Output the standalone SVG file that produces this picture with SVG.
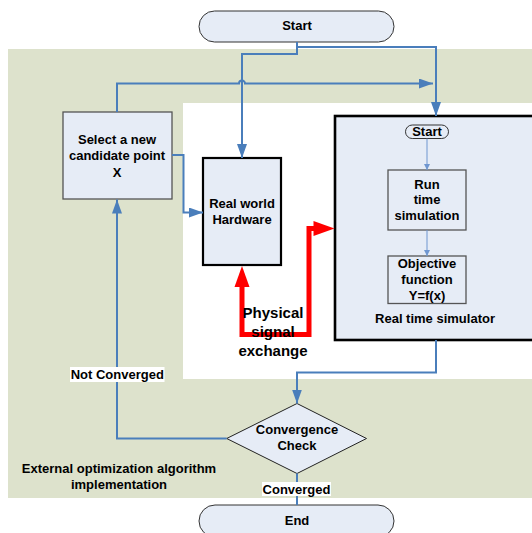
<svg xmlns="http://www.w3.org/2000/svg" width="532" height="533" viewBox="0 0 532 533">
<style>
text{font-family:"Liberation Sans",Arial,sans-serif;font-weight:bold;font-size:13px;fill:#000;text-anchor:middle}
.big{font-size:15px}
.term{fill:#e6ecf6;stroke:#333;stroke-width:1}
.box{fill:#e6ecf6;stroke:#555;stroke-width:1.3}
.hw{fill:#e6ecf6;stroke:#000;stroke-width:2.2}
.conn{fill:none;stroke:#4a7ebb;stroke-width:2}
.thin{fill:none;stroke:#6f96d0;stroke-width:1}
.red{fill:none;stroke:#ff0000;stroke-width:5}
</style>
<defs>
<marker id="ab" viewBox="0 0 14 10" refX="14" refY="5" markerWidth="14" markerHeight="10" markerUnits="userSpaceOnUse" orient="auto"><path d="M0,0L14,5L0,10Z" fill="#4a7ebb"/></marker>
<marker id="as" viewBox="0 0 6 6" refX="6" refY="3" markerWidth="6" markerHeight="6" markerUnits="userSpaceOnUse" orient="auto"><path d="M0,0L6,3L0,6Z" fill="#6f96d0"/></marker>
<marker id="ar" viewBox="0 0 20 15" refX="20" refY="7.5" markerWidth="20" markerHeight="15" markerUnits="userSpaceOnUse" orient="auto"><path d="M0,0L20,7.5L0,15Z" fill="#ff0000"/></marker>
</defs>
<rect x="0" y="0" width="532" height="533" fill="#fff"/>
<g id="background">
<rect x="8" y="49" width="524" height="449" fill="#dde2cc"/>
<rect x="183" y="103" width="349" height="276" fill="#fff"/>
</g>
<g id="start"><rect class="term" x="199" y="11" width="195" height="31" rx="15.5"/><text x="297" y="30">Start</text></g>
<g id="select"><rect class="box" x="63" y="112" width="109" height="87"/><text x="117" y="144">Select a new</text><text x="117" y="160">candidate point</text><text x="117" y="177">X</text></g>
<g id="hardware"><rect class="hw" x="203" y="158" width="78" height="107"/><text x="242" y="208">Real world</text><text x="242" y="224">Hardware</text></g>
<g id="simulator"><rect x="335" y="116" width="210" height="224" fill="#e6ecf6" stroke="#000" stroke-width="2.6"/><text x="435" y="322.5">Real time simulator</text></g>
<g id="inner-start"><rect class="term" x="405.5" y="125" width="43" height="13.5" rx="6.75"/><text x="427" y="135.5">Start</text></g>
<g id="run"><rect class="box" x="388" y="170" width="78" height="60"/><text x="427" y="188.5">Run</text><text x="427" y="204">time</text><text x="427" y="219.5">simulation</text></g>
<g id="objective"><rect class="box" x="388" y="256" width="78" height="47.5"/><text x="427" y="268">Objective</text><text x="427" y="284">function</text><text x="427" y="300">Y=f(x)</text></g>
<g id="check"><path d="M297,403.5L366.5,438.5L297,473.5L226.7,438.5Z" fill="#e6ecf6" stroke="#222" stroke-width="1"/><text x="297" y="434">Convergence</text><text x="297" y="449.5">Check</text></g>
<g id="end"><rect class="term" x="199" y="505" width="195" height="32" rx="16"/><text x="297" y="525">End</text></g>
<g id="connectors">
<path class="conn" d="M297,42V47H436V116" marker-end="url(#ab)"/>
<path class="conn" d="M297,47V54H242V158" marker-end="url(#ab)"/>
<path class="conn" d="M117,112V83.5H239A3,3 0 0 1 245,83.5H433" marker-end="url(#ab)"/>
<path class="conn" d="M172,155H183.5V212.5H203" marker-end="url(#ab)"/>
<path class="conn" d="M436,340V372.5H297V403.5" marker-end="url(#ab)"/>
<path class="conn" d="M226.7,438.5H117V199.5" marker-end="url(#ab)"/>
<path class="conn" d="M297,473.5V505"/>
<path class="thin" d="M427,138.5V170" marker-end="url(#as)"/>
<path class="thin" d="M427,230V256" marker-end="url(#as)"/>
<path class="red" d="M242,285V334.5H309V228.5H316"/>
<path d="M242,266L249.5,287L234.5,287Z" fill="#ff0000"/>
<path d="M334.5,228.5L313.5,221L313.5,236Z" fill="#ff0000"/>
</g>
<g id="labels">
<rect x="70" y="367" width="94.5" height="15" fill="#fff"/><text x="117.3" y="378.5">Not Converged</text>
<rect x="262" y="482" width="69" height="14" fill="#fff"/><text x="296.5" y="493.5">Converged</text>
<text class="big" x="273" y="318">Physical</text><text class="big" x="273" y="336.5">signal</text><text class="big" x="273" y="355.5">exchange</text>
<text x="119" y="473">External optimization algorithm</text><text x="119" y="489">implementation</text>
</g>
</svg>
